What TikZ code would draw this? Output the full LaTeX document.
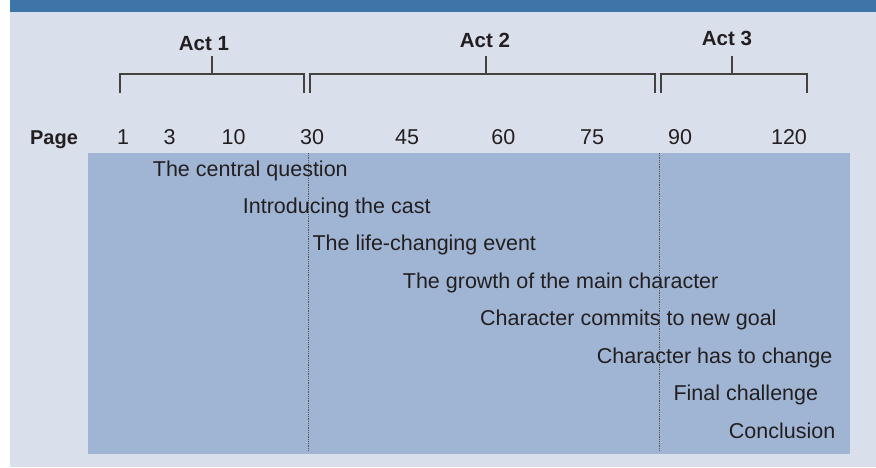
\documentclass[tikz,border=0pt]{standalone}
\usepackage{fontspec}
\setmainfont{Liberation Sans}
\usetikzlibrary{positioning,calc}
\definecolor{pBar}{HTML}{3D75A9}
\definecolor{pPaper}{HTML}{D9E0EC}
\definecolor{pField}{HTML}{A0B5D4}
\definecolor{pInk}{HTML}{231F20}
\tikzset{
  lab/.style  ={font=\fontsize{20.5}{24}\selectfont\bfseries,text=pInk,inner sep=0pt,anchor=base},
  pg/.style   ={font=\fontsize{21.5}{25}\selectfont,text=pInk,inner sep=0pt,anchor=base},
  beat/.style ={font=\fontsize{21.5}{25}\selectfont,text=pInk,inner sep=0pt,anchor=base west},
  brace/.style={line width=1.3pt,draw=pInk!85},
  split/.style={line width=0.8pt,draw=pInk!75,dash pattern=on 1pt off 0.8pt},
}

\begin{document}
\begin{tikzpicture}[x=1pt,y=-1pt]
  \useasboundingbox (0,0) rectangle (876,467);
  \fill[white]  (0,0)   rectangle (876,467);
  \fill[pPaper] (10,12) rectangle (876,467);
  \fill[pBar]   (10,0)  rectangle (876,12);

  % acts
  \node[lab] (a1) at (204,50.7) {Act 1};
  \node[lab] (a2) at (485,47.3) {Act 2};
  \node[lab] (a3) at (727,45)   {Act 3};

  \draw[brace] (120,93) |- (304,74) -- (304,93);
  \draw[brace] (212,74) -- (212,56);
  \draw[brace] (310,93) |- (655,74) -- (655,93);
  \draw[brace] (486,74) -- (486,56);
  \draw[brace] (661,93) |- (807,74) -- (807,93);
  \draw[brace] (732,74) -- (732,56);

  % page numbers
  \node[lab,font=\fontsize{20}{24}\selectfont\bfseries] (page) at (54,144) {Page};
  \foreach \n/\x in {1/123,3/169.7,10/233.7,30/312,45/407,60/503.3,75/592,90/680,120/789}
    \node[pg] (p\n) at (\x,144) {\n};

  % story beats
  \fill[pField] (88,153) rectangle (850,454);
  \draw[split] (308,153) -- (308,451);
  \draw[split] (659,153) -- (659,451);

  \foreach \x/\t [count=\i] in {152.7/The central question,
                                242.7/Introducing the cast,
                                312.3/The life-changing event,
                                402.7/The growth of the main character,
                                480/Character commits to new goal,
                                596.7/Character has to change,
                                673.3/Final challenge,
                                728.7/Conclusion}
    \node[beat] (b\i) at (\x,{176+37.45*(\i-1)}) {\t};
\end{tikzpicture}
\end{document}
